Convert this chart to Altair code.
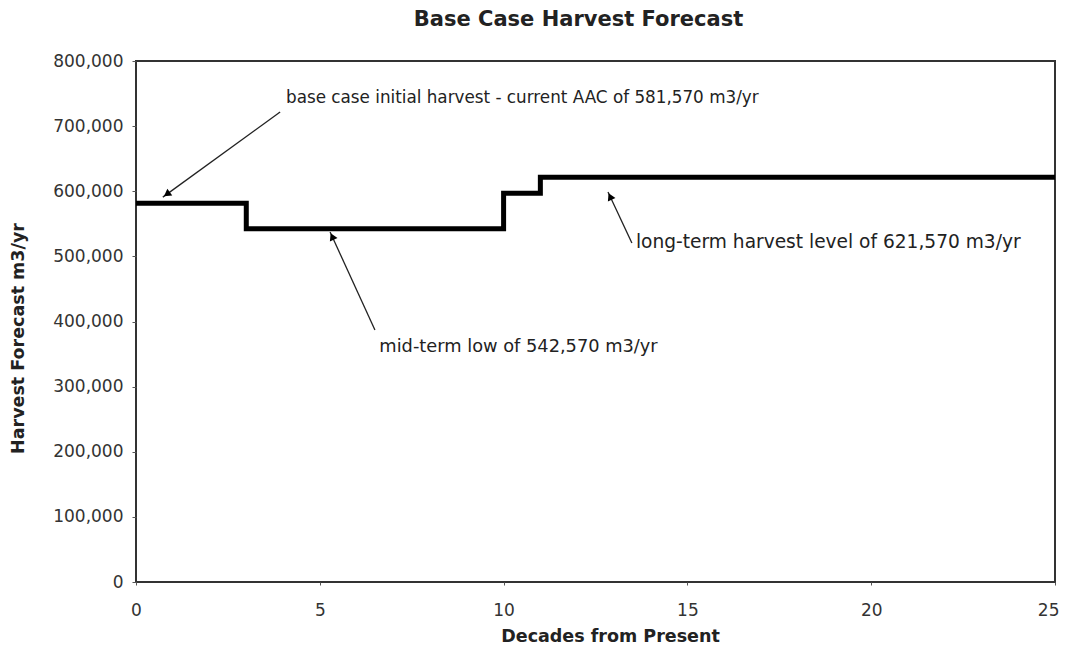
import math
import altair as alt
import pandas as pd

# step series
decades = [0, 3, 10, 11, 25]
harvest = [581570, 542570, 597000, 621570, 621570]

# annotations (data units)
ann_labels = [
    "base case initial harvest - current AAC of 581,570 m3/yr",
    "mid-term low  of 542,570 m3/yr",
    "long-term harvest level of 621,570 m3/yr",
]
ann_text_x = [4.08, 6.62, 13.6]
ann_text_y = [743000, 361000, 522000]
arrow_x0 = [3.92, 6.50, 13.49]
arrow_y0 = [721700, 387000, 520500]
arrow_x1 = [0.73, 5.28, 12.84]
arrow_y1 = [591000, 537400, 598800]

W, H = 919, 521
XMAX, YMAX = 25, 800000
FONT = "DejaVu Sans"

line_df = pd.DataFrame({"d": decades, "h": harvest})
text_df = pd.DataFrame({"x": ann_text_x, "y": ann_text_y, "t": ann_labels})

rows = []
for x0, y0, x1, y1 in zip(arrow_x0, arrow_y0, arrow_x1, arrow_y1):
    dxp = (x1 - x0) * W / XMAX
    dyp = -(y1 - y0) * H / YMAX
    ang = math.degrees(math.atan2(dxp, -dyp)) % 360
    L = math.hypot(dxp, dyp)
    back = 5.0
    cx = x1 - (dxp / L) * back * XMAX / W
    cy = y1 + (dyp / L) * back * YMAX / H
    rows.append({"x0": x0, "y0": y0, "x1": x1, "y1": y1, "cx": cx, "cy": cy, "ang": ang})
arrow_df = pd.DataFrame(rows)

xs = alt.Scale(domain=[0, XMAX], nice=False)
ys = alt.Scale(domain=[0, YMAX], nice=False)

x_axis = alt.Axis(
    values=[0, 5, 10, 15, 20, 25], format="d", title="Decades from Present", grid=False,
    domain=False, tickSize=3, tickColor="#555", labelPadding=17, labelFlush=False,
    labelAlign={"condition": {"test": "datum.value == 25", "value": "right"}, "value": "center"},
    labelOffset={"condition": {"test": "datum.value == 25", "value": 4}, "value": 0},
    labelFont=FONT, labelFontSize=17, labelColor="#333",
    titleFont=FONT, titleFontSize=17.5, titleFontWeight="bold", titleColor="#222",
    titleX=474, titleY=54, titleBaseline="middle", titleAlign="center",
)
y_axis = alt.Axis(
    values=list(range(0, 800001, 100000)), format=",.0f", title="Harvest Forecast m3/yr",
    grid=False, domain=False, tickSize=4, tickColor="#555", labelPadding=9,
    labelFont=FONT, labelFontSize=17, labelColor="#333",
    titleFont=FONT, titleFontSize=17.5, titleFontWeight="bold", titleColor="#222",
    titleX=-118, titleY=277, titleBaseline="middle", titleAlign="center", titleAngle=-90,
)

line = alt.Chart(line_df).mark_line(interpolate="step-after", color="black", strokeWidth=5).encode(
    x=alt.X("d:Q", scale=xs, axis=x_axis),
    y=alt.Y("h:Q", scale=ys, axis=y_axis),
)

rules = alt.Chart(arrow_df).mark_rule(color="#222", strokeWidth=1.3).encode(
    x="x0:Q", y="y0:Q", x2="x1:Q", y2="y1:Q"
)
heads = alt.Chart(arrow_df).mark_point(shape="triangle-up", filled=True, color="black", size=70, opacity=1).encode(
    x="cx:Q", y="cy:Q", angle=alt.Angle("ang:Q", scale=None)
)

text_sizes = [16.8, 17.8, 18.6]
text_layers = []
for i, fs in enumerate(text_sizes):
    text_layers.append(
        alt.Chart(text_df.iloc[[i]]).mark_text(
            align="left", baseline="middle", font=FONT, fontSize=fs, color="#222"
        ).encode(x="x:Q", y="y:Q", text="t:N")
    )

chart = alt.layer(line, rules, heads, *text_layers).properties(
    width=W, height=H,
    background="white",
    title=alt.TitleParams("Base Case Harvest Forecast", font=FONT, fontSize=21, fontWeight="bold",
                          color="#222", dx=-17, offset=22),
    autosize=alt.AutoSizeParams(type="none"),
    padding={"left": 128, "top": 53, "right": 5, "bottom": 62},
).configure_view(stroke="#333", strokeWidth=2)

chart.save("out.html", embed_options={"renderer": "svg", "actions": False})
